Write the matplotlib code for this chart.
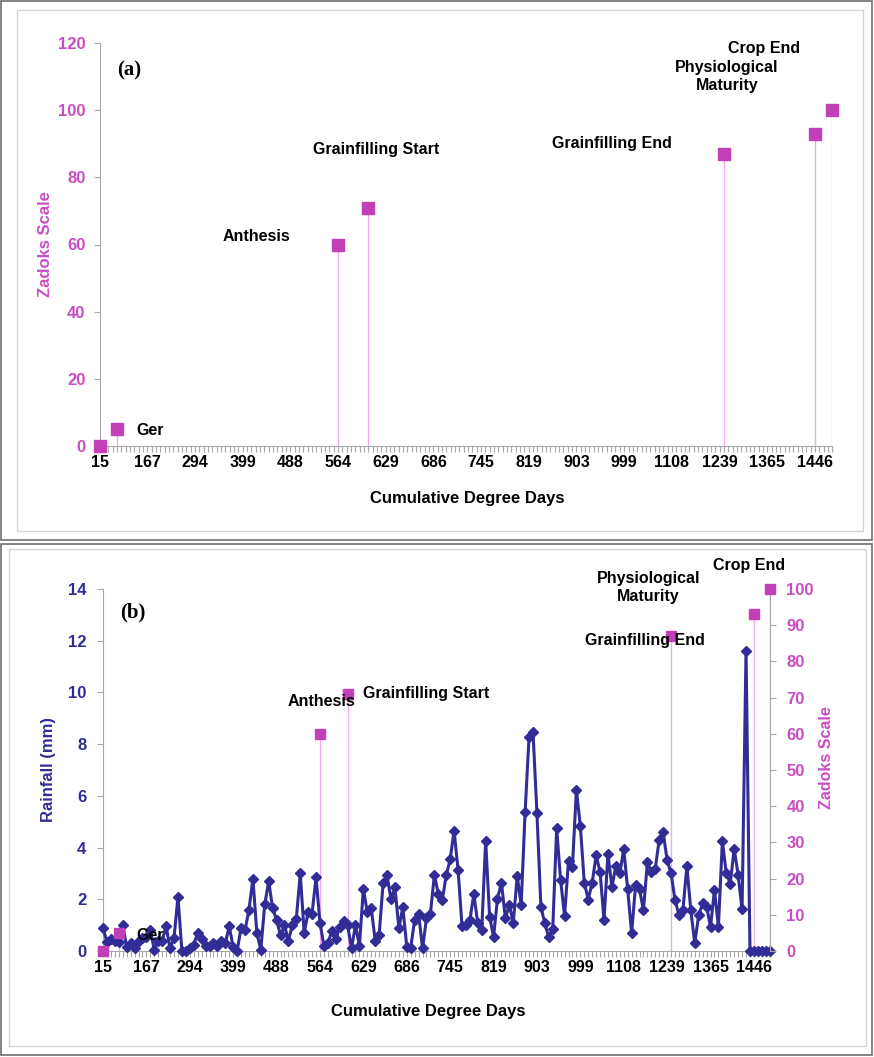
import matplotlib
matplotlib.use("Agg")
import matplotlib.pyplot as plt
from matplotlib.patches import Rectangle
import numpy as np

# ---------------- data ----------------
degree_day_labels = [15, 167, 294, 399, 488, 564, 629, 686, 745, 819, 903, 999,
                     1108, 1239, 1365, 1446]
label_every = 11          # one labelled category every 11 days

rainfall_mm = [
    0.9, 0.35, 0.45, 0.4, 0.35, 1.0, 0.15, 0.3, 0.1, 0.4,
    0.5, 0.55, 0.8, 0.05, 0.4, 0.4, 0.95, 0.1, 0.5, 2.1,
    0.0, 0.0, 0.1, 0.25, 0.7, 0.45, 0.2, 0.2, 0.3, 0.2,
    0.4, 0.3, 0.95, 0.15, 0.0, 0.9, 0.8, 1.6, 2.8, 0.7,
    0.05, 1.8, 2.7, 1.65, 1.2, 0.6, 1.0, 0.4, 1.0, 1.25,
    3.0, 0.7, 1.5, 1.45, 2.85, 1.1, 0.2, 0.3, 0.77, 0.45,
    0.92, 1.15, 1.0, 0.1, 1.0, 0.2, 2.4, 1.5, 1.65, 0.4,
    0.62, 2.62, 2.93, 2.0, 2.46, 0.88, 1.69, 0.17, 0.13, 1.2,
    1.45, 0.1, 1.26, 1.45, 2.95, 2.2, 1.97, 2.93, 3.54, 4.65,
    3.15, 0.97, 1.0, 1.2, 2.2, 1.07, 0.81, 4.26, 1.33, 0.55,
    2.03, 2.64, 1.26, 1.78, 1.1, 2.9, 1.78, 5.37, 8.29, 8.47,
    5.33, 1.71, 1.07, 0.53, 0.84, 4.74, 2.74, 1.35, 3.49, 3.26,
    6.24, 4.83, 2.64, 1.99, 2.64, 3.7, 3.06, 1.2, 3.75, 2.48,
    3.28, 3.0, 3.94, 2.38, 0.68, 2.55, 2.38, 1.58, 3.45, 3.06,
    3.19, 4.31, 4.6, 3.51, 3.0, 1.97, 1.39, 1.58, 3.28, 1.58,
    0.3, 1.39, 1.84, 1.71, 0.94, 2.36, 0.94, 4.25, 3.0, 2.61,
    3.96, 2.93, 1.61, 11.62, 0.0, 0.0, 0.0, 0.0, 0.0, 0.0,
]

stage_names = ["", "Ger", "Anthesis", "Grainfilling Start", "Grainfilling End",
               "Physiological\nMaturity", "Crop End"]
stage_day = [0, 4, 55, 62, 144, 165, 169]
stage_zadoks = [0, 5, 60, 71, 87, 93, 100]

# ---------------- style ----------------
plt.rcParams['font.family'] = ['Liberation Sans', 'DejaVu Sans']
FONT = 'Liberation Sans'

MAG = '#C23FB8'
MAG_TXT = '#C94DC2'
STEM = '#F3A9EC'
NAVY = '#322C96'
AXC = '#A8A8A8'

W, H = 874, 1057
fig = plt.figure(figsize=(W / 100, H / 100), dpi=100)

def frac(x0, y0, x1, y1):
    return [x0 / W, 1 - y1 / H, (x1 - x0) / W, (y1 - y0) / H]

# panel frames
for (x0, y0, x1, y1) in [(1, 1, 872, 540), (1, 544, 872, 1055)]:
    fig.add_artist(Rectangle((x0 / W, 1 - y1 / H), (x1 - x0) / W, (y1 - y0) / H,
                             transform=fig.transFigure, fill=False,
                             edgecolor='#6E6E6E', linewidth=1.2))
for (x0, y0, x1, y1) in [(17, 10, 863, 531), (9, 549, 866, 1046)]:
    fig.add_artist(Rectangle((x0 / W, 1 - y1 / H), (x1 - x0) / W, (y1 - y0) / H,
                             transform=fig.transFigure, fill=False,
                             edgecolor='#D4D4D4', linewidth=1.0))

n_days = len(rainfall_mm)
days = np.arange(n_days)
label_pos = np.arange(len(degree_day_labels)) * label_every


def style_xaxis(ax):
    ax.set_xlim(0, n_days - 1)
    ax.set_xticks(days)
    lab = [''] * n_days
    for p, l in zip(label_pos, degree_day_labels):
        lab[p] = str(l)
    ax.set_xticklabels(lab, fontfamily=FONT, fontweight='bold', fontsize=11.5)
    ax.tick_params(axis='x', direction='out', length=4, width=0.8, color=AXC, pad=2.5)
    for s in ['top', 'right']:
        ax.spines[s].set_visible(False)
    ax.spines['bottom'].set_color(AXC)
    ax.spines['left'].set_color(AXC)


# ---------------- panel (a) ----------------
axa = fig.add_axes(frac(99.5, 43, 832.3, 446))
style_xaxis(axa)
axa.set_ylim(0, 120)
axa.set_yticks(np.arange(0, 121, 20))
axa.tick_params(axis='y', direction='out', length=4, color=AXC, pad=6,
                labelcolor=MAG_TXT)
for t in axa.get_yticklabels():
    t.set_fontfamily(FONT); t.set_fontweight('bold'); t.set_fontsize(12)
axa.vlines(stage_day, 0, stage_zadoks, color=STEM, linewidth=1.0, zorder=2)
axa.plot(stage_day, stage_zadoks, linestyle='none', marker='s', markersize=9,
         color=MAG, zorder=3, clip_on=False)
axa.set_ylabel('Zadoks Scale', color=MAG_TXT, fontweight='bold', fontsize=12)
axa.yaxis.set_label_coords(-0.064, 0.5)
axa.set_xlabel('Cumulative Degree Days', fontfamily=FONT, fontweight='bold', fontsize=12)
axa.xaxis.set_label_coords(0.5015, -0.112)
axa.text(0.04, 0.933, '(a)', transform=axa.transAxes, fontfamily='Liberation Serif',
         fontweight='bold', fontsize=15, ha='center', va='center')

ann_a = [None, (8.6, 4.5, 'left'), (36.1, 62.5, 'center'), (63.8, 88.4, 'center'),
         (118.2, 90.0, 'center'), (144.7, 110.0, 'center'), (153.2, 118.5, 'center')]
for name, pos in zip(stage_names, ann_a):
    if pos is None:
        continue
    axa.text(pos[0], pos[1], name, ha=pos[2], va='center', fontfamily=FONT,
             fontweight='bold', fontsize=11.5, linespacing=1.25)

# ---------------- panel (b) ----------------
axb = fig.add_axes(frac(103, 589, 769.7, 951))
style_xaxis(axb)
axb.set_ylim(0, 14)
axb.set_yticks(np.arange(0, 15, 2))
axb.tick_params(axis='y', direction='out', length=4, color=AXC, pad=8,
                labelcolor=NAVY)
for t in axb.get_yticklabels():
    t.set_fontfamily(FONT); t.set_fontweight('bold'); t.set_fontsize(12)
axb.set_ylabel('Rainfall (mm)', color=NAVY, fontweight='bold', fontsize=12)
axb.yaxis.set_label_coords(-0.071, 0.5)
axb.set_xlabel('Cumulative Degree Days', fontfamily=FONT, fontweight='bold', fontsize=12)
axb.xaxis.set_label_coords(0.4875, -0.146)
axb.text(0.045, 0.936, '(b)', transform=axb.transAxes, fontfamily='Liberation Serif',
         fontweight='bold', fontsize=15, ha='center', va='center')

axz = axb.twinx()
axz.set_ylim(0, 100)
axz.set_yticks(np.arange(0, 101, 10))
axz.tick_params(axis='y', direction='out', length=4, color=AXC, pad=8,
                labelcolor=MAG_TXT)
for t in axz.get_yticklabels():
    t.set_fontfamily(FONT); t.set_fontweight('bold'); t.set_fontsize(12)
for s in ['top', 'left', 'bottom']:
    axz.spines[s].set_visible(False)
axz.spines['right'].set_color(AXC)
axz.set_ylabel('Zadoks Scale', color=MAG_TXT, fontweight='bold', fontsize=11.5)
axz.yaxis.set_label_coords(1.074, 0.533)

# stems drawn under the rainfall line (in Zadoks units)
axb.vlines(stage_day, 0, stage_zadoks, color=STEM, linewidth=1.0, zorder=1,
           transform=axz.transData)
axb.plot(days, rainfall_mm, color=NAVY, linewidth=2.2, marker='D', markersize=5.5,
         zorder=3, clip_on=False)
axz.plot(stage_day, stage_zadoks, linestyle='none', marker='s', markersize=7.5,
         color=MAG, zorder=3, clip_on=False)

ann_b = [None, (8.4, 4.4, 'left'), (55.5, 68.8, 'center'), (81.9, 71.0, 'center'),
         (137.4, 85.9, 'center'), (138.2, 100.3, 'center'), (163.8, 106.6, 'center')]
for name, pos in zip(stage_names, ann_b):
    if pos is None:
        continue
    axz.text(pos[0], pos[1], name, ha=pos[2], va='center', fontfamily=FONT,
             fontweight='bold', fontsize=11.5, linespacing=1.25, clip_on=False)

fig.savefig('out.png', dpi=100)
